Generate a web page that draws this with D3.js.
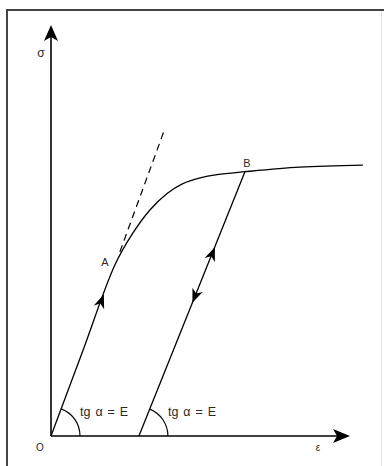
<!DOCTYPE html>
<html>
<head>
<meta charset="utf-8">
<script src="https://cdn.jsdelivr.net/npm/d3@7"></script>
<style>
  body { margin: 0; background: #fff; }
  text { font-family: "Liberation Sans", Arial, sans-serif; fill: #2a2a2a; }
</style>
</head>
<body>
<svg id="chart" width="384" height="466"></svg>
<script>
// stress-strain curve (strain ε, stress σ)
const curveEps = [0, 0.107, 0.215, 0.276, 0.333, 0.391, 0.444, 0.502, 0.559, 0.653, 0.838, 1.05];
const curveSig = [0, 0.207, 0.416, 0.494, 0.550, 0.590, 0.614, 0.628, 0.636, 0.643, 0.654, 0.659];

// named points
const pointA = [0.215, 0.416];
const pointB = [0.653, 0.643];
const residualEps = 0.296;   // where unloading line meets ε axis

// dashed tangent (elastic line continued past A)
const tangentEps = [0.232, 0.384];
const tangentSig = [0.448, 0.749];

// arrowheads on the lines: tip position, direction
const arrowEps = [0.178, 0.552, 0.476];
const arrowSig = [0.345, 0.460, 0.324];
const arrowDir = ["up", "up", "down"];

const angleLabels = ["tg α = E", "tg α = E"];

const svg = d3.select("#chart");

const x = d3.scaleLinear().domain([0, 1]).range([51, 348]);
const y = d3.scaleLinear().domain([0, 1]).range([436, 25]);

// Frame (open on right/bottom, cut off by picture)
svg.append("rect")
    .attr("x", 7).attr("y", 10)
    .attr("width", 400).attr("height", 480)
    .attr("fill", "none")
    .attr("stroke", "#444")
    .attr("stroke-width", 2);
svg.append("line")
    .attr("x1", 381.5).attr("x2", 381.5)
    .attr("y1", 11).attr("y2", 466)
    .attr("stroke", "#e4e4e4");

// filled "stealth" arrowhead at tip (px,py) pointing along (ux,uy)
function arrowHead(px, py, ux, uy, len, half, notch) {
    const n = Math.hypot(ux, uy);
    ux /= n; uy /= n;
    const vx = -uy, vy = ux;
    const bx = px - ux * len, by = py - uy * len;
    const nx = px - ux * (len - notch), ny = py - uy * (len - notch);
    return `M${px},${py}L${bx + vx * half},${by + vy * half}L${nx},${ny}L${bx - vx * half},${by - vy * half}Z`;
}

// Axes
const x0 = x(0), y0 = y(0);
svg.append("line")
    .attr("x1", x0).attr("y1", y0)
    .attr("x2", x0).attr("y2", y(1) + 8)
    .attr("stroke", "#000").attr("stroke-width", 1.6);
svg.append("path")
    .attr("d", arrowHead(x0, y(1), 0, -1, 16, 7, 4))
    .attr("fill", "#000");

svg.append("line")
    .attr("x1", x0).attr("y1", y0)
    .attr("x2", x(1) - 8).attr("y2", y0)
    .attr("stroke", "#000").attr("stroke-width", 1.6);
svg.append("path")
    .attr("d", arrowHead(x(1) + 2, y0, 1, 0, 17, 7, 4))
    .attr("fill", "#000");

// Stress-strain curve
const curveData = curveEps.map((e, i) => [e, curveSig[i]]);
const line = d3.line()
    .x(d => x(d[0]))
    .y(d => y(d[1]))
    .curve(d3.curveCatmullRom.alpha(0.5));

svg.append("path")
    .datum(curveData)
    .attr("d", line)
    .attr("fill", "none")
    .attr("stroke", "#000")
    .attr("stroke-width", 1.3);

// Dashed tangent
svg.append("line")
    .attr("x1", x(tangentEps[0])).attr("y1", y(tangentSig[0]))
    .attr("x2", x(tangentEps[1])).attr("y2", y(tangentSig[1]))
    .attr("stroke", "#000")
    .attr("stroke-width", 1.2)
    .attr("stroke-dasharray", "7,5");

// Unloading / reloading line
svg.append("line")
    .attr("x1", x(pointB[0])).attr("y1", y(pointB[1]))
    .attr("x2", x(residualEps)).attr("y2", y0)
    .attr("stroke", "#000")
    .attr("stroke-width", 1.3);

// Arrowheads on the lines
const loadDir = [x(pointA[0]) - x0, y(pointA[1]) - y0];
const unloadDir = [x(pointB[0]) - x(residualEps), y(pointB[1]) - y0];
arrowEps.forEach((e, i) => {
    const base = i === 0 ? loadDir : unloadDir;
    const s = arrowDir[i] === "up" ? 1 : -1;
    svg.append("path")
        .attr("d", arrowHead(x(e), y(arrowSig[i]), base[0] * s, base[1] * s, 14, 5.5, 4))
        .attr("fill", "#000");
});

// Angle arcs
const arc = d3.arc();
[[0, loadDir], [residualEps, unloadDir]].forEach(([e, dir]) => {
    const theta = Math.atan2(-dir[1], dir[0]);
    svg.append("path")
        .attr("transform", `translate(${x(e)},${y0})`)
        .attr("d", arc({ innerRadius: 29, outerRadius: 29, startAngle: Math.PI / 2 - theta, endAngle: Math.PI / 2 }))
        .attr("fill", "none")
        .attr("stroke", "#000")
        .attr("stroke-width", 1.2);
});

// Labels
svg.append("text").attr("x", x0 - 10).attr("y", 57)
    .attr("text-anchor", "middle").style("font-size", "12px").text("σ");
svg.append("text").attr("x", x0 - 11).attr("y", 451)
    .attr("text-anchor", "middle").style("font-size", "10px").text("O");
svg.append("text").attr("x", 318).attr("y", 451)
    .attr("text-anchor", "middle").style("font-size", "10px").text("ε");
svg.append("text").attr("x", x(pointA[0]) - 10).attr("y", y(pointA[1]) + 1)
    .attr("text-anchor", "middle").style("font-size", "11px").text("A");
svg.append("text").attr("x", x(pointB[0]) + 2).attr("y", y(pointB[1]) - 5)
    .attr("text-anchor", "middle").style("font-size", "11px").text("B");

[0, residualEps].forEach((e, i) => {
    svg.append("text")
        .attr("x", x(e) + 29)
        .attr("y", 416)
        .style("font-size", "12.5px")
        .style("word-spacing", "1.5px")
        .text(angleLabels[i]);
});
</script>
</body>
</html>
